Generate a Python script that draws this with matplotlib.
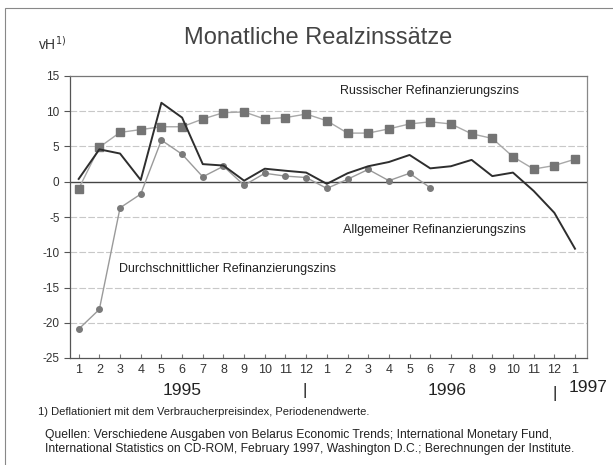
import matplotlib
matplotlib.use("Agg")
import matplotlib.pyplot as plt
from matplotlib.patches import Rectangle
import numpy as np

plt.rcParams['font.family'] = ['Liberation Sans', 'DejaVu Sans']

month_labels = ["1", "2", "3", "4", "5", "6", "7", "8", "9", "10", "11", "12",
                "1", "2", "3", "4", "5", "6", "7", "8", "9", "10", "11", "12", "1"]
russisch = [-1.0, 4.9, 7.0, 7.4, 7.8, 7.8, 8.9, 9.8, 9.9, 8.9, 9.1, 9.6,
            8.65, 6.9, 6.9, 7.5, 8.2, 8.5, 8.2, 6.8, 6.15, 3.55, 1.8, 2.3, 3.2]
allgemein = [0.4, 4.6, 4.0, 0.25, 11.2, 9.1, 2.5, 2.3, 0.15, 1.85, 1.56, 1.3,
             -0.3, 1.2, 2.2, 2.8, 3.8, 1.9, 2.2, 3.1, 0.8, 1.3, -1.3, -4.4, -9.5]
durchschnitt = [-20.9, -18.1, -3.7, -1.75, 5.9, 3.9, 0.7, 2.2, -0.5, 1.2, 0.8, 0.6,
                -0.95, 0.35, 1.75, 0.15, 1.2, -0.85]
years = ["1995", "1996", "1997"]

fig = plt.figure(figsize=(6.13, 4.65), dpi=100)
ax = fig.add_axes([70/613, 1-358/465, (587-70)/613, (358-76)/465])

x = np.arange(len(month_labels))
ax.plot(x[:len(durchschnitt)], durchschnitt, color='#9a9a9a', lw=1.0,
        marker='o', ms=4, mfc='#7a7a7a', mec='#7a7a7a', zorder=3)
ax.plot(x, russisch, color='#a8a8a8', lw=1.0, marker='s', ms=6,
        mfc='#747474', mec='#747474', zorder=4)
ax.plot(x, allgemein, color='#2e2e2e', lw=1.4, zorder=5)

ax.set_xlim(-0.42, 24.58)
ax.set_ylim(-25, 15)
ax.set_yticks(np.arange(-25, 16, 5))
ax.set_yticklabels([str(v) for v in range(-25, 16, 5)], fontsize=8.5, color='#333333')
ax.set_xticks(x)
ax.set_xticklabels(month_labels, fontsize=9, color='#333333')
ax.tick_params(axis='y', length=4, color='#555555')
ax.tick_params(axis='x', length=3, color='#777777', direction='in', pad=4)
for yv in range(-25, 16, 5):
    if yv in (0,):
        ax.axhline(yv, color='#444444', lw=1.0, zorder=2)
    elif yv not in (-25, 15):
        ax.axhline(yv, color='#c8c8c8', lw=0.8, ls=(0, (6, 2)), zorder=1)
for s in ax.spines.values():
    s.set_color('#555555')
    s.set_linewidth(0.9)
ax.spines['right'].set_color('#888888')
ax.spines['top'].set_color('#777777')

ax.text(12.65, 12.9, "Russischer Refinanzierungszins", fontsize=9, color='#222222', ha='left', va='center')
ax.text(12.8, -6.9, "Allgemeiner Refinanzierungszins", fontsize=9, color='#222222', ha='left', va='center')
ax.text(1.95, -12.4, "Durchschnittlicher Refinanzierungszins", fontsize=9, color='#222222', ha='left', va='center')

fig.text(318/613, 1-38/465, "Monatliche Realzinssätze", fontsize=17, color='#444444', ha='center', va='center')
fig.text(38/613, 1-44/465, "vH$^{1)}$", fontsize=10, color='#333333', ha='left', va='center')

fig.text(182/613, 1-390/465, years[0], fontsize=12.5, color='#222222', ha='center', va='center')
fig.text(447/613, 1-390/465, years[1], fontsize=12.5, color='#222222', ha='center', va='center')
fig.text(588/613, 1-388/465, years[2], fontsize=12.5, color='#222222', ha='center', va='center')
fig.text(305/613, 1-390/465, "|", fontsize=12, color='#222222', ha='center', va='center')
fig.text(555/613, 1-393/465, "|", fontsize=12, color='#222222', ha='center', va='center')

fig.text(38/613, 1-412/465, "1) Deflationiert mit dem Verbraucherpreisindex, Periodenendwerte.",
         fontsize=8, color='#222222', ha='left', va='center')
fig.text(45/613, 1-435/465, "Quellen: Verschiedene Ausgaben von Belarus Economic Trends; International Monetary Fund,",
         fontsize=8.7, color='#222222', ha='left', va='center')
fig.text(45/613, 1-449/465, "International Statistics on CD-ROM, February 1997, Washington D.C.; Berechnungen der Institute.",
         fontsize=8.7, color='#222222', ha='left', va='center')

fig.patches.append(Rectangle((5/613, -0.01), 1.2, 1-8/465 + 0.01, transform=fig.transFigure,
                             fill=False, ec='#888888', lw=0.8))

fig.savefig("out.png", dpi=100)
